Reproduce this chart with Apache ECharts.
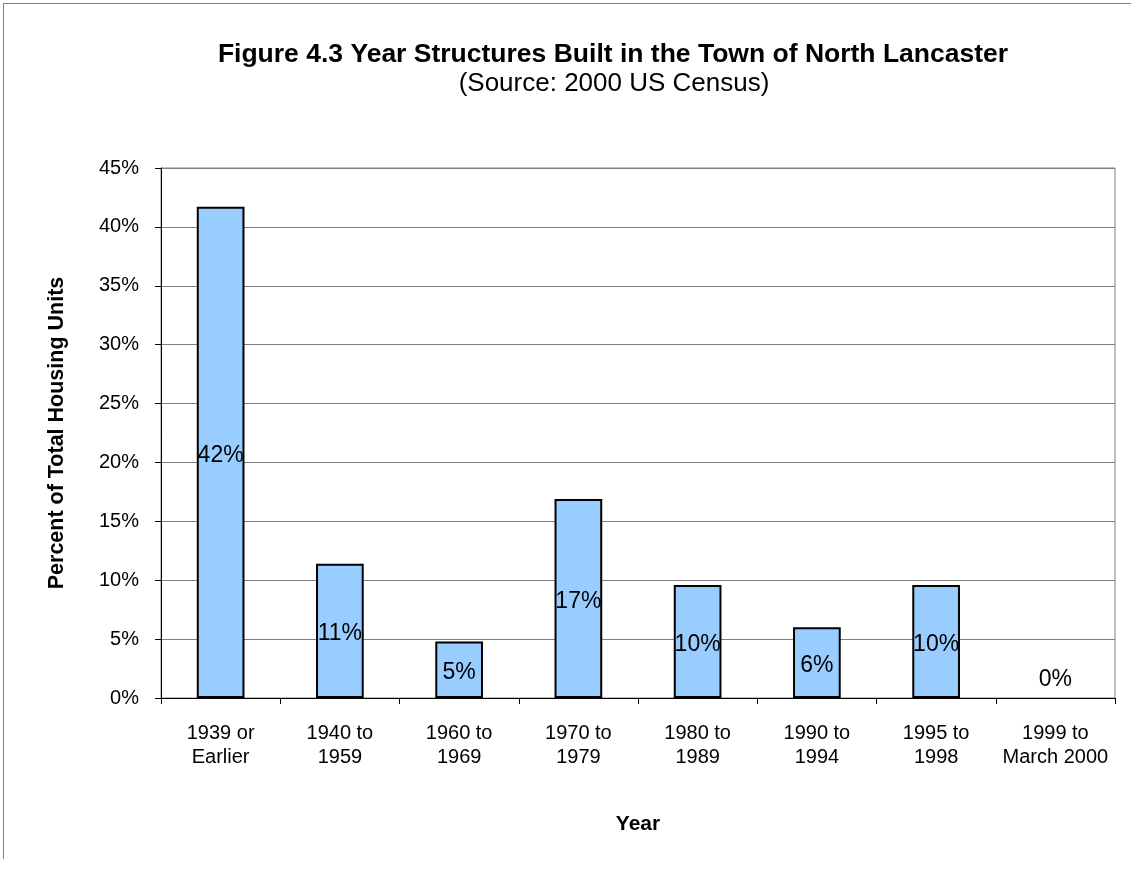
<!DOCTYPE html>
<html>
<head>
<meta charset="utf-8">
<title>Figure 4.3</title>
<script src="https://cdn.jsdelivr.net/npm/echarts@6/dist/echarts.min.js"></script>
<style>
	html, body { margin: 0; padding: 0; background: #fff; }
	#frame { position: absolute; left: 3px; top: 3px; width: 1140px; height: 855px; border-left: 1px solid #808080; border-top: 1px solid #808080; }
	#main { position: absolute; left: 0; top: 0; width: 1131px; height: 869px; }
</style>
</head>
<body>
<div id="frame"></div>
<div id="main"></div>
<script>
// categories and values
var categories = ['1939 or\nEarlier', '1940 to\n1959', '1960 to\n1969', '1970 to\n1979', '1980 to\n1989', '1990 to\n1994', '1995 to\n1998', '1999 to\nMarch 2000'];
var percents = [41.7, 11.4, 4.8, 16.9, 9.6, 6.0, 9.6, 0];
var yTicks = [0, 5, 10, 15, 20, 25, 30, 35, 40, 45];

var font = '"Liberation Sans", Arial, sans-serif';

var myChart = echarts.init(document.getElementById('main'));

var barData = [];
for (var i = 0; i < percents.length; i++) {
	var item = { value: percents[i] };
	if (percents[i] === 0) {
		// empty bar: no outline, label sits just above the axis
		item.itemStyle = { borderWidth: 0 };
		item.label = { position: 'top', distance: 10 };
	}
	barData.push(item);
}

var option = {
	animation: false,
	backgroundColor: 'transparent',
	textStyle: { fontFamily: font },
	title: [{
		text: 'Figure 4.3 Year Structures Built in the Town of North Lancaster',
		left: 608, top: 36, textAlign: 'center',
		textStyle: { fontFamily: font, fontSize: 26.5, fontWeight: 'bold', color: '#000' }
	}, {
		text: '(Source: 2000 US Census)',
		left: 609, top: 66, textAlign: 'center',
		textStyle: { fontFamily: font, fontSize: 26, fontWeight: 'normal', color: '#000' }
	}],
	grid: {
		left: 161, right: 16, top: 168, bottom: 171,
		show: true, borderColor: '#808080', borderWidth: 1
	},
	xAxis: {
		type: 'category',
		data: categories,
		name: 'Year',
		nameLocation: 'middle',
		nameGap: 116,
		nameTextStyle: { fontFamily: font, fontSize: 21, fontWeight: 'bold', color: '#000' },
		axisLine: { lineStyle: { color: '#000', width: 1 } },
		axisTick: { show: true, length: 6, lineStyle: { color: '#000' } },
		axisLabel: { fontFamily: font, fontSize: 20, color: '#000', margin: 23, lineHeight: 24, interval: 0 }
	},
	yAxis: {
		type: 'value',
		min: 0, max: 45, interval: 5,
		name: 'Percent of Total Housing Units',
		nameLocation: 'middle',
		nameGap: 93,
		nameTextStyle: { fontFamily: font, fontSize: 21.5, fontWeight: 'bold', color: '#000' },
		axisLine: { show: true, lineStyle: { color: '#000', width: 1 } },
		axisTick: { show: true, length: 6, lineStyle: { color: '#000' } },
		axisLabel: {
			fontFamily: font, fontSize: 20, color: '#000', margin: 22,
			formatter: function (v) { return yTicks.indexOf(v) >= 0 ? v + '%' : ''; }
		},
		splitLine: { lineStyle: { color: '#808080', width: 1 } }
	},
	series: [{
		type: 'bar',
		data: barData,
		barCategoryGap: '60%',
		itemStyle: { color: '#99CCFF', borderColor: '#000', borderWidth: 2 },
		label: {
			show: true,
			position: 'inside',
			offset: [0, 3],
			fontFamily: font, fontSize: 23, color: '#000',
			formatter: function (p) { return Math.round(p.value) + '%'; }
		}
	}]
};
myChart.setOption(option);
</script>
</body>
</html>
